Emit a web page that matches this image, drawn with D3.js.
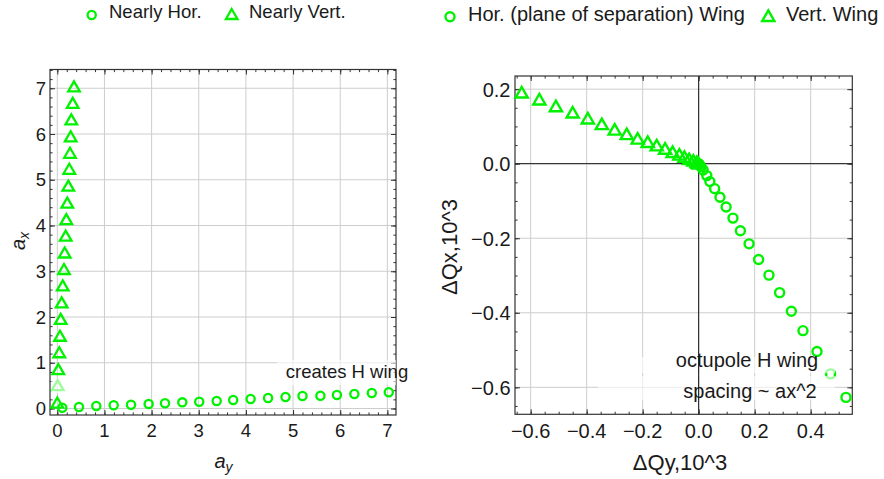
<!DOCTYPE html>
<html>
<head>
<meta charset="utf-8">
<script src="https://cdn.jsdelivr.net/npm/d3@7"></script>
<style>
  html, body { margin: 0; padding: 0; background: #fff; }
  svg { display: block; }
  text { font-family: "Liberation Sans", Arial, Helvetica, sans-serif; fill: #1a1a1a; }
</style>
</head>
<body>
<svg id="chart" width="884" height="479"></svg>
<script>
// ---------------- data ----------------
// Left panel: amplitudes
const nearlyHorAy = [0.106, 0.46, 0.827, 1.196, 1.563, 1.938, 2.284, 2.651, 3.01, 3.38, 3.73, 4.10, 4.47, 4.84, 5.20, 5.58, 5.93, 6.30, 6.67, 7.03];
const nearlyHorAx = [0.017, 0.033, 0.055, 0.07, 0.083, 0.098, 0.114, 0.135, 0.148, 0.164, 0.186, 0.207, 0.229, 0.251, 0.273, 0.28, 0.295, 0.317, 0.339, 0.354];
const nearlyVertAy = [0.0, 0.008, 0.021, 0.042, 0.057, 0.072, 0.093, 0.115, 0.142, 0.157, 0.178, 0.191, 0.212, 0.233, 0.254, 0.269, 0.284, 0.297, 0.327, 0.354];
const nearlyVertAx = [0.13, 0.51, 0.86, 1.23, 1.59, 1.96, 2.32, 2.69, 3.05, 3.41, 3.78, 4.14, 4.50, 4.87, 5.24, 5.59, 5.95, 6.32, 6.68, 7.04];

// Right panel: tune shifts (x 10^3)
const horWingDQy = [0.0001, 0.003, 0.008, 0.016, 0.029, 0.040, 0.057, 0.076, 0.098, 0.1225, 0.149, 0.18, 0.214, 0.251, 0.289, 0.331, 0.3725, 0.4225, 0.471, 0.526];
const horWingDQx = [-0.0002, -0.002, -0.008, -0.017, -0.032, -0.048, -0.067, -0.090, -0.116, -0.146, -0.18, -0.215, -0.257, -0.299, -0.346, -0.396, -0.448, -0.504, -0.564, -0.627];
const vertWingDQy = [0.0, -0.003, -0.007, -0.019, -0.034, -0.051, -0.069, -0.093, -0.12, -0.15, -0.182, -0.218, -0.257, -0.30, -0.346, -0.396, -0.45, -0.51, -0.569, -0.632];
const vertWingDQx = [0.001, 0.003, 0.005, 0.009, 0.013, 0.019, 0.025, 0.032, 0.041, 0.050, 0.059, 0.068, 0.080, 0.092, 0.107, 0.122, 0.138, 0.155, 0.173, 0.1916];

const leftTicksX = [0, 1, 2, 3, 4, 5, 6, 7];
const leftTicksY = [0, 1, 2, 3, 4, 5, 6, 7];
const rightTicksX = [-0.6, -0.4, -0.2, 0.0, 0.2, 0.4];
const rightTicksY = [-0.6, -0.4, -0.2, 0.0, 0.2];

const legendLeft = ["Nearly Hor.", "Nearly Vert."];
const legendRight = ["Hor. (plane of separation) Wing", "Vert. Wing"];
const annotLeft = ["creates H wing"];
const annotRight = ["octupole H wing", "spacing ~ ax^2"];

// ---------------- drawing ----------------
const GREEN = "#00f200";
const svg = d3.select("#chart");
const defs = svg.append("defs");

function circleMark(g, x, y, s) {
  g.append("circle").attr("cx", x).attr("cy", y).attr("r", s.r)
    .attr("fill", "none").attr("stroke", GREEN).attr("stroke-width", s.sw);
}
function triMark(g, x, y, s) {
  const p = d3.symbol().type(d3.symbolTriangle).size(s.tri)();
  const h = Math.sqrt(s.tri * 4 / Math.sqrt(3)) * Math.sqrt(3) / 2;
  g.append("path").attr("d", p).attr("transform", `translate(${x},${y + h / 6})`)
    .attr("fill", "none").attr("stroke", GREEN).attr("stroke-width", s.sw)
    .attr("stroke-linejoin", "miter");
}

function panel(cfg) {
  const g = svg.append("g");
  const x = d3.scaleLinear().domain(cfg.xd).range([cfg.left, cfg.right]);
  const y = d3.scaleLinear().domain(cfg.yd).range([cfg.bottom, cfg.top]);
  // grid
  const grid = g.append("g");
  grid.selectAll("line.gx").data(cfg.tx).join("line")
    .attr("x1", d => x(d)).attr("x2", d => x(d)).attr("y1", cfg.top).attr("y2", cfg.bottom)
    .attr("stroke", "#cdcdcd").attr("stroke-width", 1);
  grid.selectAll("line.gy").data(cfg.ty).join("line")
    .attr("y1", d => y(d)).attr("y2", d => y(d)).attr("x1", cfg.left).attr("x2", cfg.right)
    .attr("stroke", "#cdcdcd").attr("stroke-width", 1);
  const zeroAxes = sel => {
    sel.append("line").attr("x1", x(0)).attr("x2", x(0)).attr("y1", cfg.top).attr("y2", cfg.bottom)
      .attr("stroke", "#111").attr("stroke-width", 1);
    sel.append("line").attr("y1", y(0)).attr("y2", y(0)).attr("x1", cfg.left).attr("x2", cfg.right)
      .attr("stroke", "#111").attr("stroke-width", 1);
  };
  if (cfg.zeroAxes) zeroAxes(g.append("g"));
  // ticks (inward on all four sides)
  const minorX = d3.range(Math.ceil(cfg.xd[0] / cfg.mx - 1e-9), Math.floor(cfg.xd[1] / cfg.mx + 1e-9) + 1).map(i => i * cfg.mx);
  const minorY = d3.range(Math.ceil(cfg.yd[0] / cfg.my - 1e-9), Math.floor(cfg.yd[1] / cfg.my + 1e-9) + 1).map(i => i * cfg.my);
  const axStyle = sel => { sel.select(".domain").remove(); sel.selectAll("line").attr("stroke", "#333"); };
  const mk = (axisFn, scale, vals, size) => axisFn(scale).tickValues(vals).tickSize(size).tickFormat("");
  [[minorX, minorY, 2.6], [cfg.tx, cfg.ty, 5]].forEach(([vx, vy, sz]) => {
    g.append("g").attr("transform", `translate(0,${cfg.bottom})`).call(mk(d3.axisTop, x, vx, sz)).call(axStyle);
    g.append("g").attr("transform", `translate(0,${cfg.top})`).call(mk(d3.axisBottom, x, vx, sz)).call(axStyle);
    g.append("g").attr("transform", `translate(${cfg.left},0)`).call(mk(d3.axisRight, y, vy, sz)).call(axStyle);
    g.append("g").attr("transform", `translate(${cfg.right},0)`).call(mk(d3.axisLeft, y, vy, sz)).call(axStyle);
  });
  // frame
  g.append("rect").attr("x", cfg.left).attr("y", cfg.top)
    .attr("width", cfg.right - cfg.left).attr("height", cfg.bottom - cfg.top)
    .attr("fill", "none").attr("stroke", "#333").attr("stroke-width", 1.2);
  // tick labels
  g.selectAll("text.tlx").data(cfg.tx).join("text")
    .attr("x", d => x(d)).attr("y", cfg.bottom + cfg.xlOff)
    .attr("text-anchor", "middle").attr("font-size", cfg.font).text(cfg.fmt);
  g.selectAll("text.tly").data(cfg.ty).join("text")
    .attr("x", cfg.left - cfg.ylGap).attr("y", d => y(d) + cfg.ylOff)
    .attr("text-anchor", "end").attr("font-size", cfg.font).text(cfg.fmt);
  // marks
  const mg = g.append("g");
  cfg.circles.xs.forEach((v, i) => circleMark(mg, x(v), y(cfg.circles.ys[i]), cfg.mark));
  cfg.tris.xs.forEach((v, i) => triMark(mg, x(v), y(cfg.tris.ys[i]), cfg.mark));
  // semi-transparent label backgrounds
  const bgG = g.append("g");
  (cfg.boxes || []).forEach((b, i) => {
    bgG.append("rect").attr("x", b[0]).attr("y", b[1]).attr("width", b[2]).attr("height", b[3])
      .attr("fill", "#fff").attr("opacity", 0.62);
  });
  if (cfg.zeroAxes && cfg.boxes) {
    const id = "clip" + Math.round(cfg.left);
    const cp = defs.append("clipPath").attr("id", id);
    cfg.boxes.forEach(b => cp.append("rect").attr("x", b[0]).attr("y", b[1]).attr("width", b[2]).attr("height", b[3]));
    zeroAxes(g.append("g").attr("clip-path", `url(#${id})`));
  }
  // annotations
  (cfg.annots || []).forEach(a => {
    g.append("text").attr("x", a.x).attr("y", a.y).attr("text-anchor", "middle")
      .attr("font-size", cfg.font).text(a.t);
  });
  return { g, x, y };
}

const markL = { r: 4.1, sw: 2.3, tri: 58 };
const markR = { r: 4.5, sw: 2.4, tri: 64 };

// Left panel
panel({
  left: 50, right: 396, top: 69.5, bottom: 415,
  xd: [-0.155, 7.183], yd: [-0.142, 7.41],
  tx: leftTicksX, ty: leftTicksY, mx: 0.2, my: 0.2,
  fmt: d3.format("d"), font: 18.5, xlOff: 21.7, ylGap: 4, ylOff: 6.7,
  mark: markL,
  circles: { xs: nearlyHorAy, ys: nearlyHorAx },
  tris: { xs: nearlyVertAy, ys: nearlyVertAx },
  boxes: [[51, 378, 16, 15], [277, 360, 119, 25]],
  annots: [{ x: 347, y: 378.3, t: annotLeft[0] }]
});
// Right panel
panel({
  left: 515, right: 852.3, top: 76, bottom: 414.3,
  xd: [-0.656, 0.5486], yd: [-0.6724, 0.2353],
  tx: rightTicksX, ty: rightTicksY, mx: 0.05, my: 0.05,
  fmt: d3.format(".1f"), font: 20, xlOff: 24, ylGap: 4.5, ylOff: 7.5,
  zeroAxes: true, mark: markR,
  circles: { xs: horWingDQy, ys: horWingDQx },
  tris: { xs: vertWingDQy, ys: vertWingDQx },
  boxes: [[641, 357, 194, 16], [598, 376, 237, 24]],
  annots: [{ x: 747, y: 366.7, t: annotRight[0] }, { x: 750, y: 397.5, t: annotRight[1] }]
});

// axis labels
function subLabel(x, y, base, sub, rotate) {
  const t = svg.append("text").attr("font-size", 20).attr("font-style", "italic")
    .attr("text-anchor", "middle")
    .attr("transform", `translate(${x},${y})` + (rotate ? " rotate(-90)" : ""));
  t.append("tspan").text(base);
  t.append("tspan").attr("font-size", 14).attr("dy", 4).text(sub);
}
subLabel(223.5, 468, "a", "y", false);
subLabel(25, 241, "a", "x", true);
svg.append("text").attr("x", 680).attr("y", 470).attr("text-anchor", "middle")
  .attr("font-size", 22).text("ΔQy,10^3");
svg.append("text").attr("transform", "translate(457,247) rotate(-90)").attr("text-anchor", "middle")
  .attr("font-size", 22).text("ΔQx,10^3");

// legends
const lg = svg.append("g");
circleMark(lg, 91.7, 15, markL);
lg.append("text").attr("x", 109).attr("y", 18.3).attr("font-size", 18.5).text(legendLeft[0]);
triMark(lg, 231.7, 14, markL);
lg.append("text").attr("x", 249).attr("y", 18.3).attr("font-size", 18.5).text(legendLeft[1]);
circleMark(lg, 450, 16.7, markR);
lg.append("text").attr("x", 468).attr("y", 20.7).attr("font-size", 20).text(legendRight[0]);
triMark(lg, 768.3, 15.7, markR);
lg.append("text").attr("x", 786).attr("y", 20.7).attr("font-size", 20).text(legendRight[1]);
</script>
</body>
</html>
